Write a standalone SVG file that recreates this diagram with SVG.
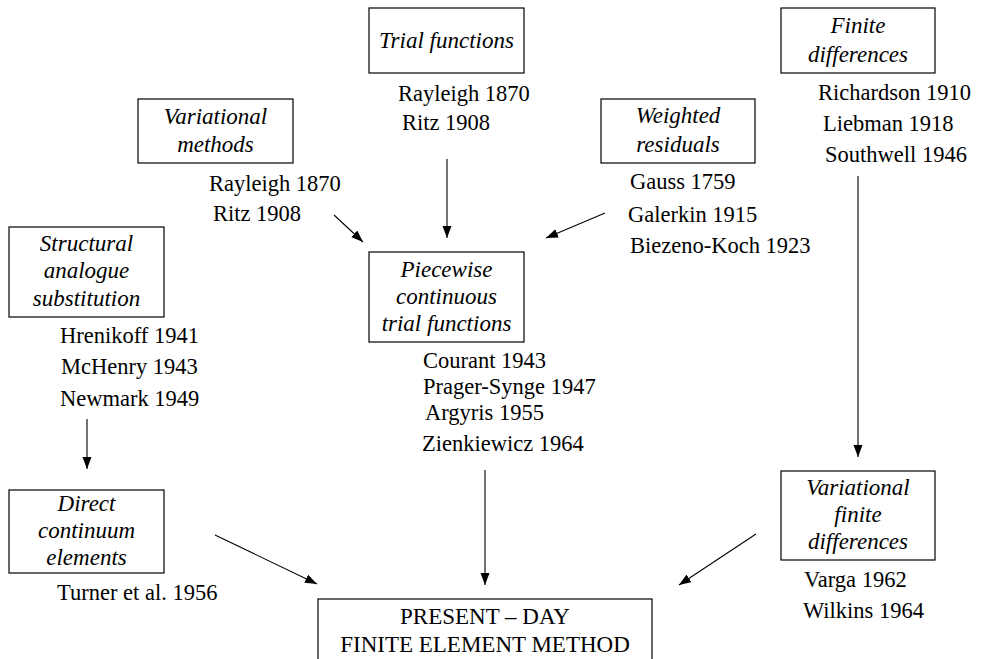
<svg xmlns="http://www.w3.org/2000/svg" width="983" height="659" viewBox="0 0 983 659">
<style>
  .box { fill: #ffffff; stroke: #000000; stroke-width: 1.2; }
  text { font-family: 'Liberation Serif', Tinos, 'Times New Roman', Times, 'DejaVu Serif', serif; fill: #000000; }
  .bt { font-size: 23px; font-style: italic; text-anchor: middle; }
  .mt { font-size: 23px; text-anchor: middle; }
  .lb { font-size: 22.5px; }
  .edge { stroke: #000000; stroke-width: 1.1; fill: none; marker-end: url(#ah); }
</style>
<defs>
  <marker id="ah" markerUnits="userSpaceOnUse" markerWidth="14" markerHeight="10" refX="12" refY="4.5" orient="auto">
    <path d="M0,0 L12,4.5 L0,9 Z" fill="#000000"/>
  </marker>
</defs>
<rect width="983" height="659" fill="#ffffff"/>

<g id="connectors">
  <line class="edge" x1="447" y1="159" x2="447" y2="238"/>
  <line class="edge" x1="334" y1="215" x2="363" y2="242"/>
  <line class="edge" x1="605" y1="213" x2="546" y2="238"/>
  <line class="edge" x1="858" y1="176" x2="858" y2="457"/>
  <line class="edge" x1="87" y1="419" x2="87" y2="469"/>
  <line class="edge" x1="215" y1="535" x2="317" y2="584"/>
  <line class="edge" x1="485" y1="470" x2="485" y2="585"/>
  <line class="edge" x1="756" y1="534" x2="679" y2="585"/>
</g>

<g id="trial-functions">
  <rect class="box" x="369" y="8" width="155" height="65"/>
  <text class="bt" x="446.5" y="48">Trial functions</text>
  <text class="lb" x="398" y="101">Rayleigh 1870</text>
  <text class="lb" x="402" y="130">Ritz 1908</text>
</g>

<g id="finite-differences">
  <rect class="box" x="781" y="8" width="154" height="65"/>
  <text class="bt" x="858" y="33">Finite</text>
  <text class="bt" x="858" y="62">differences</text>
  <text class="lb" x="818" y="100">Richardson 1910</text>
  <text class="lb" x="823" y="131">Liebman 1918</text>
  <text class="lb" x="825" y="162">Southwell 1946</text>
</g>

<g id="variational-methods">
  <rect class="box" x="138" y="99" width="155" height="64"/>
  <text class="bt" x="215.5" y="124">Variational</text>
  <text class="bt" x="215.5" y="152">methods</text>
  <text class="lb" x="209" y="191">Rayleigh 1870</text>
  <text class="lb" x="213" y="221">Ritz 1908</text>
</g>

<g id="weighted-residuals">
  <rect class="box" x="601" y="99" width="154" height="64"/>
  <text class="bt" x="678" y="123">Weighted</text>
  <text class="bt" x="678" y="152">residuals</text>
  <text class="lb" x="630" y="189">Gauss 1759</text>
  <text class="lb" x="628" y="222">Galerkin 1915</text>
  <text class="lb" x="630" y="253">Biezeno-Koch 1923</text>
</g>

<g id="structural-analogue">
  <rect class="box" x="9" y="227" width="155" height="90"/>
  <text class="bt" x="86.5" y="251">Structural</text>
  <text class="bt" x="86.5" y="278">analogue</text>
  <text class="bt" x="86.5" y="306">substitution</text>
  <text class="lb" x="60" y="343">Hrenikoff 1941</text>
  <text class="lb" x="61" y="374">McHenry 1943</text>
  <text class="lb" x="60" y="406">Newmark 1949</text>
</g>

<g id="piecewise-continuous">
  <rect class="box" x="369" y="252" width="155" height="90"/>
  <text class="bt" x="446.5" y="277">Piecewise</text>
  <text class="bt" x="446.5" y="304">continuous</text>
  <text class="bt" x="446.5" y="331">trial functions</text>
  <text class="lb" x="423" y="368">Courant 1943</text>
  <text class="lb" x="423" y="394">Prager-Synge 1947</text>
  <text class="lb" x="425" y="420">Argyris 1955</text>
  <text class="lb" x="422" y="451">Zienkiewicz 1964</text>
</g>

<g id="direct-continuum">
  <rect class="box" x="9" y="490" width="155" height="83"/>
  <text class="bt" x="86.5" y="511">Direct</text>
  <text class="bt" x="86.5" y="538">continuum</text>
  <text class="bt" x="86.5" y="565">elements</text>
  <text class="lb" x="57" y="600">Turner et al. 1956</text>
</g>

<g id="variational-finite-differences">
  <rect class="box" x="781" y="471" width="154" height="89"/>
  <text class="bt" x="858" y="495">Variational</text>
  <text class="bt" x="858" y="522">finite</text>
  <text class="bt" x="858" y="549">differences</text>
  <text class="lb" x="804" y="587">Varga 1962</text>
  <text class="lb" x="803" y="618">Wilkins 1964</text>
</g>

<g id="present-day-fem">
  <rect class="box" x="318" y="599" width="334" height="90"/>
  <text class="mt" x="485" y="624">PRESENT – DAY</text>
  <text class="mt" x="485" y="652">FINITE ELEMENT METHOD</text>
</g>
</svg>
